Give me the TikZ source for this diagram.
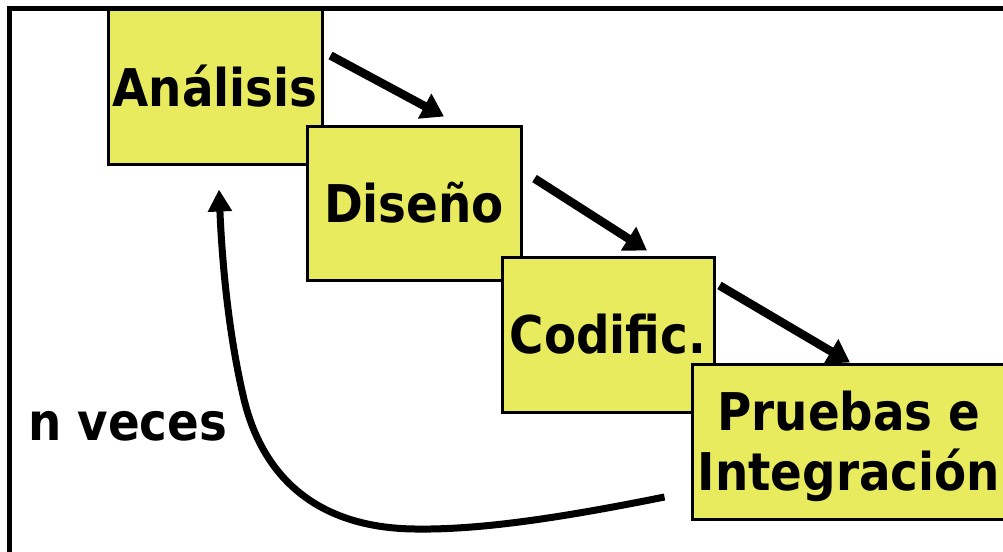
\documentclass[tikz,border=0pt]{standalone}
\usepackage{fontspec}
\setmainfont{DejaVu Sans Condensed}
\usetikzlibrary{arrows.meta,calc}
\definecolor{stagefill}{RGB}{233,235,94}
\begin{document}
\begin{tikzpicture}[x=1pt,y=-1pt,
  stage/.style={draw=black, line width=3pt, fill=stagefill, inner sep=0pt,
    font=\fontsize{52}{60}\selectfont\bfseries, text height=38pt, text depth=0pt, align=center},
  flow/.style={line width=8.5pt, -{Triangle[length=22pt,width=27pt]}},
  loopback/.style={line width=7pt, -{Triangle[length=22pt,width=23pt]}},
  caption/.style={font=\fontsize{52}{60}\selectfont\bfseries, inner sep=0pt},
]
\clip (0,0) rectangle (1003,551);
\fill[white] (0,0) rectangle (1003,551);

% frame (top and left edges)
\draw[line width=5pt] (9,560) -- (9,9) -- (1010,9);

% process stages, each overlapping the previous one
\node[stage, minimum width=214pt, minimum height=154pt] (analisis) at (215,87) {Análisis};
\node[stage, minimum width=214pt, minimum height=154pt] (diseno) at (414,203) {Diseño};
\node[stage, minimum width=212pt, minimum height=155pt] (codific) at (608,334.5) {Codific.};
% two lines: the block reaches from the first cap line down to the last baseline
\node[stage, minimum width=314pt, minimum height=155pt, text height=98pt] (pruebas) at (849,441.5) {Pruebas e\\Integración};

% flow arrows between stages
\coordinate (a1) at ($(analisis.north east)+(7,47)$);
\coordinate (a2) at ($(diseno.north)+(30,-8)$);
\coordinate (b1) at ($(diseno.north east)+(12,54)$);
\coordinate (b2) at ($(codific.north)+(39,-5)$);
\coordinate (c1) at ($(codific.north east)+(4,30)$);
\coordinate (c2) at ($(pruebas.north)+(1,0)$);
\draw[flow] (a1) -- (a2);
\draw[flow] (b1) -- (b2);
\draw[flow] (c1) -- (c2);

% iteration loop back to the first stage
\coordinate (back) at ($(pruebas.west)+(-26,55.5)$);
\coordinate (top) at ($(analisis.south)+(4,24)$);
\draw[loopback] (back) .. controls (560,518) and (480,530) .. (415,529)
  .. controls (320,528) and (262,480) .. (243,395)
  .. controls (228,330) and (222,260) .. (top);

\node[caption, anchor=base west] (nveces) at (28,440) {n veces};
\end{tikzpicture}
\end{document}
